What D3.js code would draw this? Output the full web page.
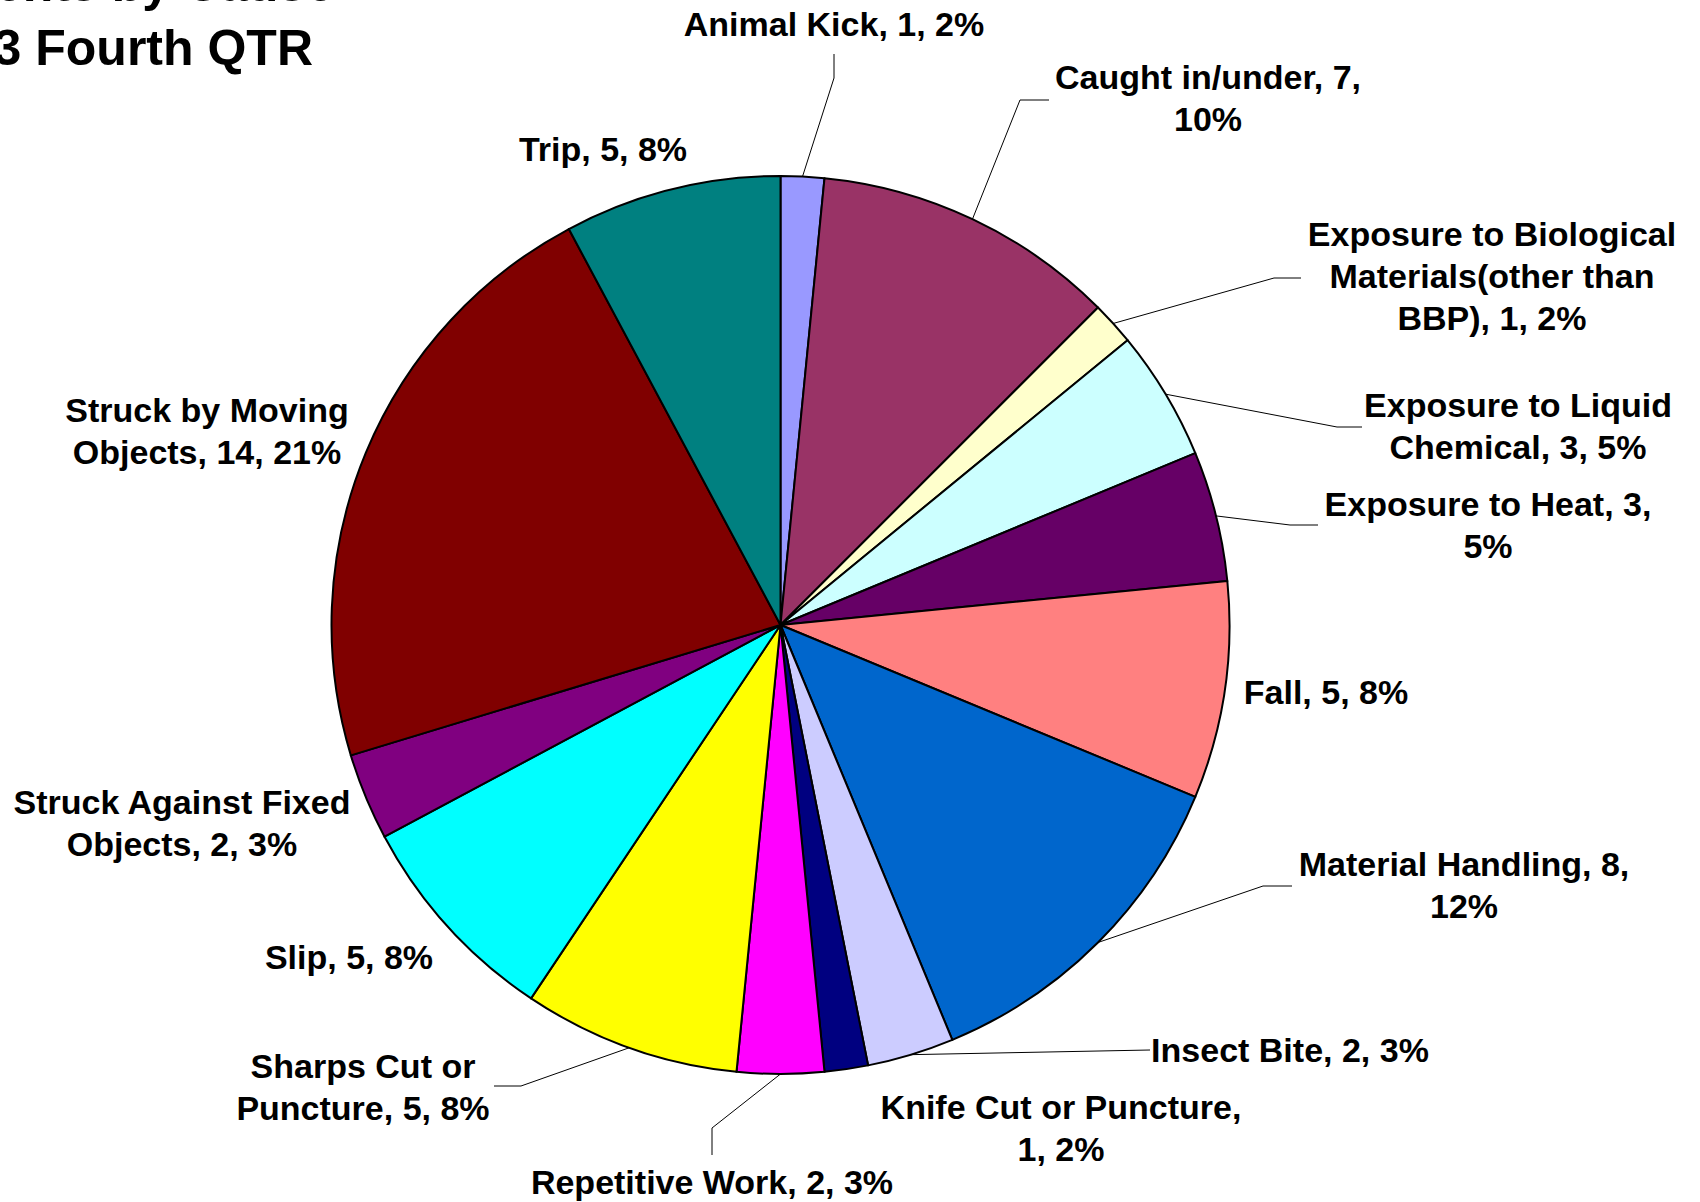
<!DOCTYPE html>
<html>
<head>
<meta charset="utf-8">
<script src="https://cdn.jsdelivr.net/npm/d3@7"></script>
<style>
  html, body { margin: 0; padding: 0; background: #fff; overflow: hidden; }
  svg { display: block; font-family: "Liberation Sans", Arial, sans-serif; font-weight: bold; }
</style>
</head>
<body>
<div id="chart"></div>
<script>
// data, clockwise from 12 o'clock
const categories = [
    "Animal Kick", "Caught in/under", "Exposure to Biological Materials(other than BBP)",
    "Exposure to Liquid Chemical", "Exposure to Heat", "Fall", "Material Handling",
    "Insect Bite", "Knife Cut or Puncture", "Repetitive Work", "Sharps Cut or Puncture",
    "Slip", "Struck Against Fixed Objects", "Struck by Moving Objects", "Trip"
];
const counts = [1, 7, 1, 3, 3, 5, 8, 2, 1, 2, 5, 5, 2, 14, 5];
const pctLabels = ["2%", "10%", "2%", "5%", "5%", "8%", "12%", "3%", "2%", "3%", "8%", "8%", "3%", "21%", "8%"];
const colors = [
    "#9999ff", "#993366", "#ffffcc", "#ccffff", "#660066", "#ff8080", "#0066cc",
    "#ccccff", "#000080", "#ff00ff", "#ffff00", "#00ffff", "#800080", "#800000", "#008080"
];
const titleLines = ["Incidents by Cause", "2013 Fourth QTR"];

// label placement (Excel put them by hand): centre x, first line y, word breaks, leader elbow + end
const labelLayout = [
    { x: 834, y: 24, breaks: [], leader: [[834, 78], [834, 54]] },
    { x: 1208, y: 77, breaks: [3], leader: [[1020, 100], [1049, 100]] },
    { x: 1492, y: 234, breaks: [3, 5], leader: [[1274, 278], [1301, 278]] },
    { x: 1518, y: 405, breaks: [3], leader: [[1337, 427], [1362, 427]] },
    { x: 1488, y: 504, breaks: [4], leader: [[1290, 525], [1318, 525]] },
    { x: 1326, y: 692, breaks: [], leader: null },
    { x: 1464, y: 864, breaks: [3], leader: [[1263, 886], [1292, 886]] },
    { x: 1290, y: 1050, breaks: [], leader: [[1150, 1050], [1150, 1050]] },
    { x: 1061, y: 1107, breaks: [4], leader: null },
    { x: 712, y: 1182, breaks: [], leader: [[712, 1128], [712, 1155]] },
    { x: 363, y: 1066, breaks: [3], leader: [[521, 1086], [494, 1086]] },
    { x: 349, y: 957, breaks: [], leader: null },
    { x: 182, y: 802, breaks: [3], leader: null },
    { x: 207, y: 410, breaks: [3], leader: null },
    { x: 603, y: 149, breaks: [], leader: null }
];

const width = 1700, height = 1202;
const cx = 780.5, cy = 625, radius = 449;
const fontSize = 34, lineGap = 42;

const svg = d3.select("#chart").append("svg")
    .attr("width", width)
    .attr("height", height);

const rows = categories.map((c, i) => ({ cat: c, count: counts[i], pct: pctLabels[i], color: colors[i], layout: labelLayout[i] }));

const pie = d3.pie().value(d => d.count).sort(null);
const arcs = pie(rows);
const arc = d3.arc().innerRadius(0).outerRadius(radius);
const edge = d3.arc().innerRadius(radius).outerRadius(radius);

const g = svg.append("g").attr("transform", `translate(${cx},${cy})`);

g.selectAll("path.slice")
    .data(arcs)
    .enter()
    .append("path")
    .attr("class", "slice")
    .attr("d", arc)
    .attr("fill", d => d.data.color)
    .attr("stroke", "#000")
    .attr("stroke-width", 2)
    .attr("stroke-linejoin", "round");

// leader lines from the middle of each slice's rim
const line = d3.line();
svg.selectAll("path.leader")
    .data(arcs.filter(d => d.data.layout.leader))
    .enter()
    .append("path")
    .attr("class", "leader")
    .attr("d", d => {
        const [ex, ey] = edge.centroid(d);
        return line([[cx + ex, cy + ey]].concat(d.data.layout.leader));
    })
    .attr("fill", "none")
    .attr("stroke", "#000")
    .attr("stroke-width", 1);

// labels "name, value, pct" wrapped at the given words
const labels = svg.selectAll("text.label")
    .data(rows)
    .enter()
    .append("text")
    .attr("class", "label")
    .attr("text-anchor", "middle")
    .attr("font-size", fontSize)
    .attr("fill", "#000");

labels.each(function (d) {
    const words = `${d.cat}, ${d.count}, ${d.pct}`.split(" ");
    const cuts = [0].concat(d.layout.breaks, [words.length]);
    const t = d3.select(this);
    for (let k = 0; k < cuts.length - 1; k++) {
        t.append("tspan")
            .attr("x", d.layout.x)
            .attr("y", d.layout.y + k * lineGap)
            .attr("dy", "0.36em")
            .text(words.slice(cuts[k], cuts[k + 1]).join(" "));
    }
});

// title, mostly off the top-left edge like the original
svg.append("text")
    .attr("text-anchor", "end")
    .attr("font-size", 50)
    .selectAll("tspan")
    .data(titleLines)
    .enter()
    .append("tspan")
    .attr("x", (d, i) => i === 0 ? 334 : 313)
    .attr("y", (d, i) => 1 + i * 64)
    .text(d => d);
</script>
</body>
</html>
